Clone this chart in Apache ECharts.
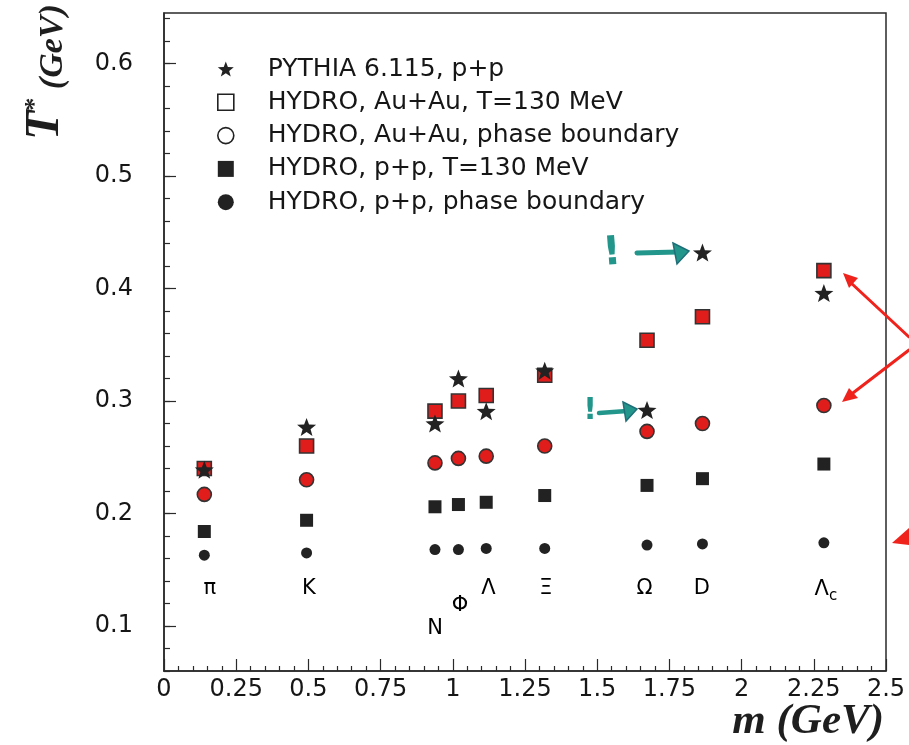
<!DOCTYPE html>
<html>
<head>
<meta charset="utf-8">
<script src="https://cdn.jsdelivr.net/npm/echarts@6/dist/echarts.min.js"></script>
<style>
  html, body { margin: 0; padding: 0; background: #ffffff; }
  #chart { width: 909px; height: 745px; }
</style>
</head>
<body>
<div id="chart"></div>
<script>
// Hadron species and their masses (GeV)
const particles = ['π', 'K', 'N', 'Φ', 'Λ', 'Ξ', 'Ω', 'D', 'Λc'];
const masses = [0.1396, 0.4937, 0.9383, 1.0195, 1.1157, 1.3183, 1.6725, 1.8645, 2.2849];

// Effective temperature T* (GeV) for each model
const pythiaPP     = [0.239, 0.277, 0.280, 0.320, 0.291, 0.327, 0.292, 0.432, 0.396];
const hydroAuAu130 = [0.240, 0.260, 0.291, 0.300, 0.305, 0.323, 0.354, 0.375, 0.416];
const hydroAuAuPB  = [0.217, 0.230, 0.245, 0.249, 0.251, 0.260, 0.273, 0.280, 0.296];
const hydroPP130   = [0.184, 0.194, 0.206, 0.208, 0.210, 0.216, 0.225, 0.231, 0.244];
const hydroPPPB    = [0.163, 0.165, 0.168, 0.168, 0.169, 0.169, 0.172, 0.173, 0.174];

// Where each particle name is written (m, T*)
const nameX = [0.159, 0.502, 0.939, 1.025, 1.123, 1.322, 1.664, 1.862, 2.292];
const nameY = [0.133, 0.133, 0.098, 0.118, 0.133, 0.133, 0.133, 0.133, 0.132];

// Axis ticks
const yLabels = [0.1, 0.2, 0.3, 0.4, 0.5, 0.6];
const yMinor = [0.06, 0.08, 0.10, 0.12, 0.14, 0.16, 0.18, 0.20, 0.22, 0.24, 0.26, 0.28, 0.30,
                0.32, 0.34, 0.36, 0.38, 0.40, 0.42, 0.44, 0.46, 0.48, 0.50, 0.52, 0.54, 0.56,
                0.58, 0.60, 0.62, 0.64];

const seriesNames = [
  'PYTHIA 6.115, p+p',
  'HYDRO, Au+Au, T=130 MeV',
  'HYDRO, Au+Au, phase boundary',
  'HYDRO, p+p, T=130 MeV',
  'HYDRO, p+p, phase boundary'
];

const STAR = 'path://M0,-50 L12.34,-16.99 L47.55,-15.45 L19.97,6.49 L29.39,40.45 L0,21 L-29.39,40.45 L-19.97,6.49 L-47.55,-15.45 L-12.34,-16.99 Z';
const INK = '#222222';
const TEXT = '#161616';
const RED = '#e11d1b';
const TEAL = '#23968c';
const PEN_RED = '#f0221c';
const FONT = '"DejaVu Sans", sans-serif';
const SERIF = '"Liberation Serif", "DejaVu Serif", serif';

const pair = (ys) => masses.map((m, i) => [m, ys[i]]);

const chart = echarts.init(document.getElementById('chart'), null, { renderer: 'canvas' });

const option = {
  backgroundColor: '#ffffff',
  animation: false,
  grid: {
    left: 164, right: 23, top: 13, bottom: 74,
    show: true, borderColor: '#2a2a2a', borderWidth: 1.5,
    outerBoundsMode: 'none'
  },
  legend: {
    orient: 'vertical',
    left: 212, top: 51,
    itemWidth: 16, itemHeight: 16, itemGap: 7.3,
    selectedMode: false,
    textStyle: { fontFamily: FONT, fontSize: 25, color: TEXT, lineHeight: 26, padding: [0, 0, 0, 29] },
    data: [
      { name: seriesNames[0], icon: STAR, itemStyle: { color: INK, borderWidth: 0 } },
      { name: seriesNames[1], icon: 'rect', itemStyle: { color: '#ffffff', borderColor: INK, borderWidth: 1.6 } },
      { name: seriesNames[2], icon: 'circle', itemStyle: { color: '#ffffff', borderColor: INK, borderWidth: 1.6 } },
      { name: seriesNames[3], icon: 'rect', itemStyle: { color: INK, borderWidth: 0 } },
      { name: seriesNames[4], icon: 'circle', itemStyle: { color: INK, borderWidth: 0 } }
    ]
  },
  xAxis: {
    type: 'value', min: 0, max: 2.5, interval: 0.25,
    axisLine: { show: true, lineStyle: { color: '#2a2a2a', width: 1.5 } },
    axisTick: { show: true, inside: true, length: 12, lineStyle: { color: '#2a2a2a', width: 1.2 } },
    minorTick: { show: true, splitNumber: 5, length: 5, lineStyle: { color: '#2a2a2a', width: 1.2 } },
    axisLabel: { show: true, margin: 7, fontFamily: FONT, fontSize: 24, color: TEXT, showMaxLabel: true, showMinLabel: true },
    splitLine: { show: false }
  },
  yAxis: [
    {
      type: 'value', min: 0.06, max: 0.645,
      axisLine: { show: true, lineStyle: { color: '#2a2a2a', width: 1.5 } },
      axisTick: { show: true, inside: true, length: 12, customValues: yLabels, lineStyle: { color: '#2a2a2a', width: 1.2 } },
      axisLabel: { show: true, margin: 31, customValues: yLabels, fontFamily: FONT, fontSize: 24, color: TEXT,
        formatter: (v) => v.toFixed(1) },
      splitLine: { show: false }
    },
    {
      type: 'value', min: 0.06, max: 0.645, position: 'left', offset: 0,
      axisLine: { show: false },
      axisTick: { show: true, inside: true, length: 6, customValues: yMinor, lineStyle: { color: '#2a2a2a', width: 1.2 } },
      axisLabel: { show: false },
      splitLine: { show: false }
    }
  ],
  series: [
    {
      name: seriesNames[1], type: 'scatter', data: pair(hydroAuAu130), z: 3,
      symbol: 'rect', symbolSize: 14,
      itemStyle: { color: RED, borderColor: '#333', borderWidth: 1.6, opacity: 1 }
    },
    {
      name: seriesNames[2], type: 'scatter', data: pair(hydroAuAuPB), z: 3,
      symbol: 'circle', symbolSize: 14,
      itemStyle: { color: RED, borderColor: '#333', borderWidth: 1.6, opacity: 1 }
    },
    {
      name: seriesNames[3], type: 'scatter', data: pair(hydroPP130), z: 3,
      symbol: 'rect', symbolSize: 13,
      itemStyle: { color: INK, opacity: 1 }
    },
    {
      name: seriesNames[4], type: 'scatter', data: pair(hydroPPPB), z: 3,
      symbol: 'circle', symbolSize: 11,
      itemStyle: { color: INK, opacity: 1 }
    },
    {
      name: seriesNames[0], type: 'scatter', data: pair(pythiaPP), z: 4,
      symbol: STAR, symbolSize: [19, 18],
      itemStyle: { color: INK, opacity: 1 }
    },
    {
      // particle names under each mass column
      name: 'names', type: 'scatter', z: 2, silent: true,
      symbolSize: 0,
      itemStyle: { opacity: 1, color: '#000000' },
      data: particles.map((p, i) => ({ name: p, value: [nameX[i], nameY[i]] })),
      label: {
        show: true, position: 'inside', opacity: 1,
        fontFamily: FONT, fontSize: 21, color: '#000000',
        textBorderWidth: 0,
        formatter: (d) => d.name === 'Λc' ? '{m|Λ}{s|c}' : d.name,
        rich: {
          m: { fontFamily: FONT, fontSize: 21, color: '#000000' },
          s: { fontFamily: FONT, fontSize: 15, color: '#000000', padding: [12, 0, 0, 0] }
        }
      }
    }
  ],
  graphic: [
    // axis titles
    {
      type: 'text', x: 46, y: 140, rotation: Math.PI / 2, z: 10,
      style: {
        text: '{t|T}{s|*}{g| (GeV)}',
        align: 'left', verticalAlign: 'middle',
        rich: {
          t: { fontFamily: SERIF, fontStyle: 'italic', fontWeight: 'bold', fontSize: 48, fill: '#1e1e1e', verticalAlign: 'bottom' },
          s: { fontFamily: SERIF, fontWeight: 'bold', fontSize: 26, fill: '#1e1e1e', verticalAlign: 'top' },
          g: { fontFamily: SERIF, fontStyle: 'italic', fontWeight: 'bold', fontSize: 34, fill: '#1e1e1e', verticalAlign: 'bottom' }
        }
      }
    },
    {
      type: 'text', x: 884, y: 722, z: 10,
      style: {
        text: 'm (GeV)',
        align: 'right', verticalAlign: 'middle',
        font: 'italic bold 43px "Liberation Serif", serif', fill: '#1e1e1e'
      }
    },
    // handwritten teal marks
    { type: 'text', x: 612, y: 254, z: 20, rotation: 0.08,
      style: { text: '!', font: 'bold 40px "DejaVu Sans", sans-serif', fill: TEAL, align: 'center', verticalAlign: 'middle' } },
    { type: 'polyline', z: 20, shape: { points: [[637, 253], [678, 252]] },
      style: { stroke: TEAL, lineWidth: 5, lineCap: 'round', fill: null } },
    { type: 'polygon', z: 20, shape: { points: [[673, 243], [689, 251], [677, 264]] },
      style: { fill: TEAL, stroke: '#1f6f78', lineWidth: 1.5 } },
    { type: 'text', x: 590, y: 411, z: 20,
      style: { text: '!', font: 'bold 30px "DejaVu Sans", sans-serif', fill: TEAL, align: 'center', verticalAlign: 'middle' } },
    { type: 'polyline', z: 20, shape: { points: [[599, 413], [627, 411]] },
      style: { stroke: TEAL, lineWidth: 4.5, lineCap: 'round', fill: null } },
    { type: 'polygon', z: 20, shape: { points: [[623, 402], [637, 409], [626, 421]] },
      style: { fill: TEAL, stroke: '#1f6f78', lineWidth: 1.5 } },
    // handwritten red arrows on the right edge
    { type: 'polyline', z: 20, shape: { points: [[909, 337], [850, 282]] },
      style: { stroke: PEN_RED, lineWidth: 3, lineCap: 'round', fill: null } },
    { type: 'polygon', z: 20, shape: { points: [[843, 273], [858, 278], [849, 288]] },
      style: { fill: PEN_RED } },
    { type: 'polyline', z: 20, shape: { points: [[909, 350], [849, 396]] },
      style: { stroke: PEN_RED, lineWidth: 3, lineCap: 'round', fill: null } },
    { type: 'polygon', z: 20, shape: { points: [[842, 402], [849, 388], [858, 398]] },
      style: { fill: PEN_RED } },
    { type: 'polygon', z: 20, shape: { points: [[892, 543], [909, 528], [909, 545]] },
      style: { fill: PEN_RED } }
  ]
};

chart.setOption(option);
</script>
</body>
</html>
